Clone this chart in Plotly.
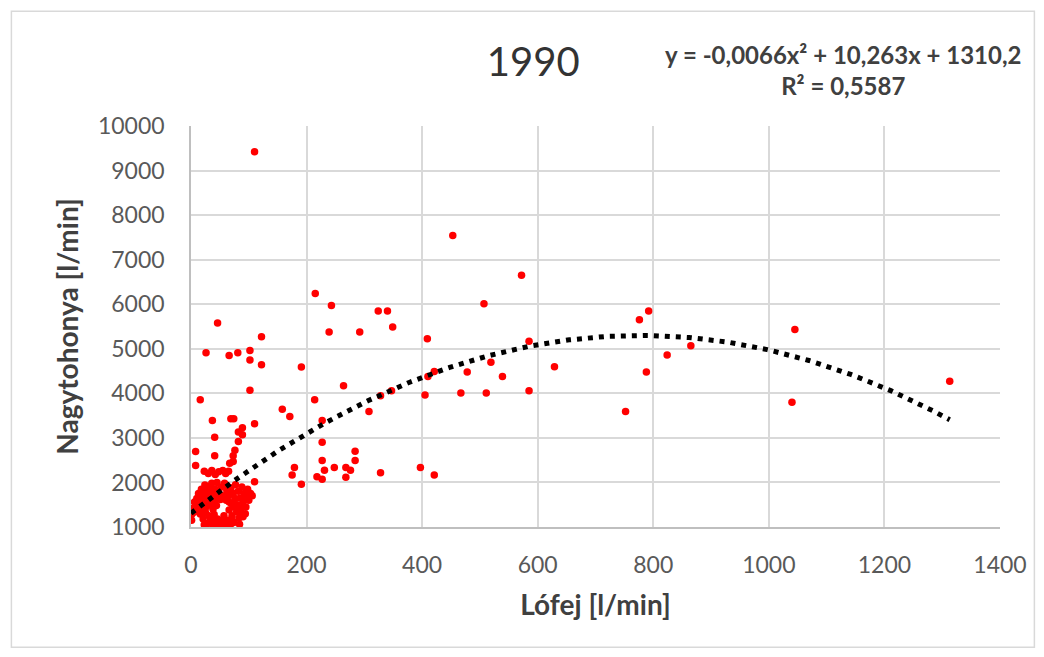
import numpy as np
import plotly.graph_objects as go

# ---- data (Lófej [l/min] vs Nagytohonya [l/min], 1990) ----
lofej = [
    110, 453, 572, 507, 215, 243, 324, 340, 792, 776, 46, 349, 1045, 239, 292, 122, 409, 585, 865,
    102, 26, 81, 66, 824, 102, 519, 122, 629, 191, 421, 478, 788, 410, 539, 1313, 264, 102, 347, 585,
    467, 511, 405, 328, 16, 214, 1040, 158, 308, 752, 171, 37, 227, 69, 74, 110, 89, 82, 89, 41, 82,
    227, 76, 8, 284, 73, 41, 227, 284, 73, 67, 8, 179, 248, 268, 397, 231, 276, 328, 175, 421, 218,
    268, 227, 110, 191,
    23, 30, 36, 42, 48, 55, 60, 65,
    1, 1, 3, 5, 6, 9, 10, 12, 13, 14, 16, 17, 18, 19, 20, 21, 22, 23, 24, 25, 26, 27, 28, 29, 30,
    31, 32, 33, 34, 35, 36, 37, 38, 39, 40, 41, 42, 43, 44, 45, 46, 48, 50, 51, 52, 54, 55, 57, 58,
    60, 61, 62, 64, 65, 66, 68, 69, 70, 71, 73, 74, 76, 77, 79, 80, 82, 83, 85, 87, 88, 90, 92, 94,
    96, 98, 100, 103, 106,
    24, 33, 44, 58, 66, 75, 86, 95, 28, 47, 72, 90, 35, 62, 84,
]
nagytohonya = [
    9420, 7540, 6650, 6010, 6240, 5970, 5850, 5850, 5850, 5650, 5580, 5490, 5430, 5375, 5375, 5270,
    5224, 5170, 5070, 4960, 4910, 4910, 4850, 4860, 4750, 4700, 4640, 4595, 4590, 4490, 4480, 4480,
    4380, 4380, 4270, 4170, 4070, 4060, 4060, 4010, 4010, 3960, 3945, 3854, 3854, 3800, 3645, 3590,
    3590, 3480, 3390, 3390, 3430, 3430, 3320, 3230, 3130, 3070, 3016, 2920, 2900, 2720, 2692, 2700,
    2600, 2600, 2490, 2490, 2470, 2430, 2380, 2333, 2333, 2333, 2333, 2274, 2274, 2220, 2168, 2168,
    2130, 2117, 2072, 2018, 1959,
    2250, 2200, 2270, 2180, 2240, 2270, 2200, 2250,
    1150, 1280, 1420, 1330, 1560, 1470, 1640, 1380, 1750, 1520, 1290, 1650, 1850, 1420, 1560, 1180,
    1720, 1050, 1940, 1320, 1610, 1460, 1800, 1080, 1700, 1250, 1520, 1880, 1150, 1620, 1980, 1060,
    1400, 1750, 1280, 1550, 1850, 1100, 1680, 2000, 1180, 1780, 1060, 1620, 1900, 1130, 1700, 1250,
    1980, 1080, 1600, 1820, 1150, 1700, 1380, 1050, 1880, 1520, 1250, 1760, 1100, 1640, 1950, 1350,
    1500, 1800, 1200, 1650, 1420, 1900, 1560, 1750, 1300, 1680, 1850, 1600, 1750, 1700,
    1370, 1230, 1480, 1060, 1560, 1450, 1290, 1450, 1900, 1050, 1130, 1230, 1530, 1930, 1060,
]

# Trendline (polynomial, order 2) as shown in the chart
coef_a = -0.0066
coef_b = 10.263
coef_c = 1310.2
eq_text = "y = -0,0066x² + 10,263x + 1310,2<br>R² = 0,5587"
title_text = "1990"
x_title = "Lófej [l/min]"
y_title = "Nagytohonya [l/min]"

x_ticks = [0, 200, 400, 600, 800, 1000, 1200, 1400]
y_ticks = [1000, 2000, 3000, 4000, 5000, 6000, 7000, 8000, 9000, 10000]

FONT = "Lato"
GRID = "#D9D9D9"
TXT = "#595959"

tx = np.linspace(0, max(lofej), 400)
ty = coef_a * tx ** 2 + coef_b * tx + coef_c

fig = go.Figure()
fig.add_trace(go.Scatter(
    x=lofej, y=nagytohonya, mode="markers",
    marker=dict(color="#FF0000", size=7.5, line=dict(width=0)),
    hoverinfo="x+y", showlegend=False,
))
fig.add_trace(go.Scatter(
    x=tx, y=ty, mode="lines",
    line=dict(color="#000000", width=5, dash="5px,6px"),
    hoverinfo="skip", showlegend=False,
))

fig.update_layout(
    width=1044, height=657,
    margin=dict(l=190.5, r=44, t=126, b=130),
    paper_bgcolor="white", plot_bgcolor="white",
    font=dict(family=FONT, color=TXT),
    title=dict(text=title_text, x=0.423, xref="paper", xanchor="center",
               y=0.905, yanchor="middle", font=dict(size=40, color="#333333", family=FONT)),
    xaxis=dict(
        range=[0, 1400], tickvals=x_ticks, ticktext=[str(v) for v in x_ticks], ticks="",
        showgrid=True, gridcolor=GRID, gridwidth=1.5,
        zeroline=False, showline=True, linecolor="#BFBFBF", linewidth=1.5,
        tickfont=dict(size=23, color=TXT, family=FONT), ticklabelstandoff=17,
        title=dict(text="<b>" + x_title + "</b>", standoff=18,
                   font=dict(size=28, color="#404040", family=FONT)),
    ),
    yaxis=dict(
        range=[1000, 10000], tickvals=y_ticks, ticktext=[str(v) for v in y_ticks], ticks="",
        showgrid=True, gridcolor=GRID, gridwidth=1.5,
        zeroline=False, showline=True, linecolor="#BFBFBF", linewidth=1.5,
        tickfont=dict(size=23, color=TXT, family=FONT), ticklabelstandoff=20,
        title=dict(text="<b>" + y_title + "</b>", standoff=11,
                   font=dict(size=28, color="#404040", family=FONT)),
    ),
    annotations=[dict(
        text="<b>" + eq_text + "</b>", xref="paper", yref="paper",
        x=0.806, y=1.14, xanchor="center", yanchor="middle", showarrow=False, align="center",
        font=dict(size=24, color="#404040", family=FONT),
    )],
    shapes=[dict(type="rect", xref="paper", yref="paper",
                 x0=-0.222, x1=1.0425, y0=-0.3, y1=1.286,
                 line=dict(color="#D9D9D9", width=1.5), fillcolor="rgba(0,0,0,0)", layer="below")],
)

fig.write_html("out.html")
